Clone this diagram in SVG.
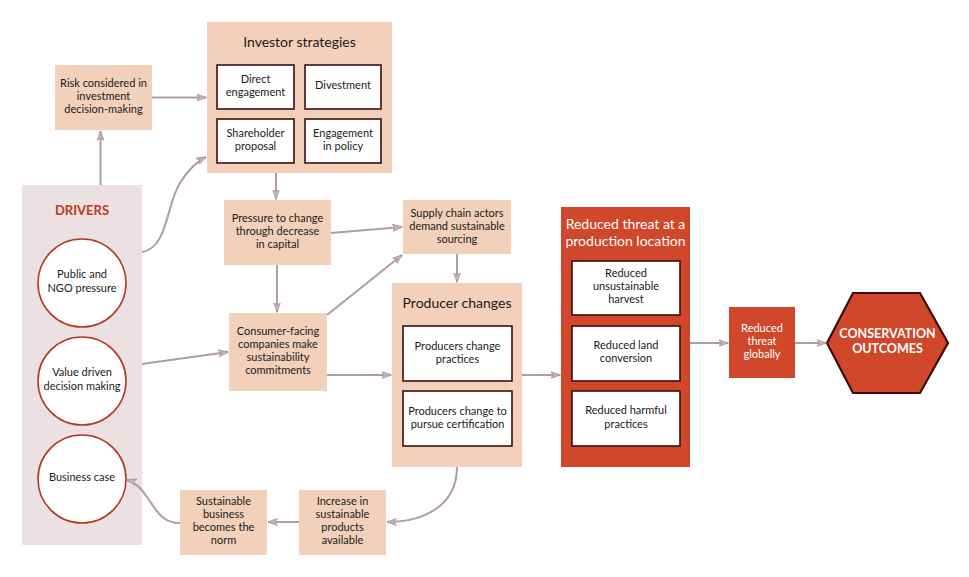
<svg xmlns="http://www.w3.org/2000/svg" width="969" height="577" viewBox="0 0 969 577">
<defs>
<marker id="ah" viewBox="0 0 10 8" refX="9.5" refY="4" markerWidth="10" markerHeight="8" markerUnits="userSpaceOnUse" orient="auto">
<path d="M0,0.5 L10,4 L0,7.5 L2.5,4 Z" fill="#c3b3b6" stroke="#a8939a" stroke-width="0.8"/>
</marker>
</defs>
<style>
text{font-family:Lato,"Open Sans","Liberation Sans",sans-serif;text-anchor:middle;fill:#1a1a1a;font-size:11px}
.peach{fill:#f2d0ba}
.inner{fill:#ffffff;stroke:#3b1010;stroke-width:1.6}
.red{fill:#d1472b}
.circ{fill:#ffffff;stroke:#b33a22;stroke-width:1.6}
.title{font-size:14px}
.wt{fill:#ffffff}
.conn path,.conn line{fill:none;stroke:#b09ca1;stroke-width:2;marker-end:url(#ah)}
</style>
<rect width="969" height="577" fill="#ffffff"/>

<g id="drivers">
<rect x="22" y="185" width="120" height="360" fill="#ebe0e2"/>
<text x="82" y="215" style="font-weight:bold;font-size:13px;fill:#c23b22">DRIVERS</text>
</g>
<g id="public-ngo">
<circle class="circ" cx="82" cy="283" r="44"/>
<text x="82" y="278">Public and</text>
<text x="82" y="292">NGO pressure</text>
</g>
<g id="value-driven">
<circle class="circ" cx="82" cy="381" r="44"/>
<text x="82" y="376">Value driven</text>
<text x="82" y="390">decision making</text>
</g>
<g id="business-case">
<circle class="circ" cx="82" cy="479" r="44"/>
<text x="82" y="481">Business case</text>
</g>

<g id="risk">
<rect class="peach" x="55" y="65" width="97" height="65"/>
<text x="103.5" y="87">Risk considered in</text>
<text x="103.5" y="100">investment</text>
<text x="103.5" y="113">decision-making</text>
</g>

<g id="investor-strategies">
<rect class="peach" x="207" y="22" width="185" height="151"/>
<text class="title" x="299.5" y="47">Investor strategies</text>
</g>
<g id="direct-engagement">
<rect class="inner" x="217" y="65" width="77" height="44"/>
<text x="255.5" y="83">Direct</text>
<text x="255.5" y="96">engagement</text>
</g>
<g id="divestment">
<rect class="inner" x="305" y="65" width="76" height="44"/>
<text x="343" y="89">Divestment</text>
</g>
<g id="shareholder-proposal">
<rect class="inner" x="217" y="119" width="77" height="44"/>
<text x="255.5" y="137">Shareholder</text>
<text x="255.5" y="150">proposal</text>
</g>
<g id="engagement-policy">
<rect class="inner" x="305" y="119" width="76" height="44"/>
<text x="343" y="137">Engagement</text>
<text x="343" y="150">in policy</text>
</g>

<g id="pressure">
<rect class="peach" x="224" y="200" width="107" height="65"/>
<text x="277.5" y="222">Pressure to change</text>
<text x="277.5" y="235">through decrease</text>
<text x="277.5" y="248">in capital</text>
</g>

<g id="consumer-facing">
<rect class="peach" x="229" y="313" width="98" height="78"/>
<text x="278" y="335">Consumer-facing</text>
<text x="278" y="348">companies make</text>
<text x="278" y="361">sustainability</text>
<text x="278" y="374">commitments</text>
</g>

<g id="supply-chain">
<rect class="peach" x="403" y="200" width="108" height="54"/>
<text x="457" y="217">Supply chain actors</text>
<text x="457" y="230">demand sustainable</text>
<text x="457" y="243">sourcing</text>
</g>

<g id="producer-changes">
<rect class="peach" x="392" y="283" width="130" height="184"/>
<text class="title" x="457" y="308">Producer changes</text>
</g>
<g id="producers-practices">
<rect class="inner" x="403" y="326" width="109" height="55"/>
<text x="457.5" y="350">Producers change</text>
<text x="457.5" y="363">practices</text>
</g>
<g id="producers-certification">
<rect class="inner" x="403" y="391" width="109" height="55"/>
<text x="457.5" y="415">Producers change to</text>
<text x="457.5" y="428">pursue certification</text>
</g>

<g id="reduced-threat-location">
<rect class="red" x="561" y="207" width="129" height="260"/>
<text class="title wt" x="625.5" y="229">Reduced threat at a</text>
<text class="title wt" x="625.5" y="246">production location</text>
</g>
<g id="reduced-harvest">
<rect class="inner" x="572" y="261" width="108" height="54"/>
<text x="626" y="277">Reduced</text>
<text x="626" y="290">unsustainable</text>
<text x="626" y="303">harvest</text>
</g>
<g id="reduced-land">
<rect class="inner" x="572" y="326" width="108" height="55"/>
<text x="626" y="349">Reduced land</text>
<text x="626" y="362">conversion</text>
</g>
<g id="reduced-harmful">
<rect class="inner" x="572" y="391" width="108" height="55"/>
<text x="626" y="414">Reduced harmful</text>
<text x="626" y="428">practices</text>
</g>

<g id="reduced-global">
<rect class="red" x="729" y="307" width="66" height="71"/>
<text class="wt" x="762" y="332">Reduced</text>
<text class="wt" x="762" y="345">threat</text>
<text class="wt" x="762" y="358">globally</text>
</g>

<g id="conservation-outcomes">
<polygon points="827,343 853,293 920,293 948,343 920,393 853,393" fill="#d1472b" stroke="#3a0c0c" stroke-width="2.2"/>
<text class="wt" x="887.5" y="338" style="font-weight:bold;font-size:12.5px">CONSERVATION</text>
<text class="wt" x="887.5" y="353" style="font-weight:bold;font-size:12.5px">OUTCOMES</text>
</g>

<g id="sustainable-norm">
<rect class="peach" x="180" y="490" width="87" height="65"/>
<text x="223.5" y="505">Sustainable</text>
<text x="223.5" y="518">business</text>
<text x="223.5" y="531">becomes the</text>
<text x="223.5" y="544">norm</text>
</g>
<g id="increase-products">
<rect class="peach" x="299" y="490" width="87" height="65"/>
<text x="342.5" y="505">Increase in</text>
<text x="342.5" y="518">sustainable</text>
<text x="342.5" y="531">products</text>
<text x="342.5" y="544">available</text>
</g>

<g id="connectors" class="conn">
<line x1="100.5" y1="185" x2="100.5" y2="131"/>
<line x1="152" y1="97.5" x2="206" y2="97.5"/>
<path d="M142,252 C168,248 166,205 180,183 C188,170 196,162 206,157"/>
<line x1="276" y1="173" x2="276" y2="199"/>
<line x1="277" y1="265" x2="277" y2="312"/>
<line x1="331" y1="233" x2="402" y2="227"/>
<line x1="327" y1="315" x2="402" y2="255"/>
<line x1="142" y1="364" x2="228" y2="352"/>
<line x1="327" y1="375" x2="391" y2="375"/>
<line x1="457" y1="254" x2="457" y2="282"/>
<line x1="522" y1="375" x2="560" y2="375"/>
<line x1="690" y1="343" x2="728" y2="343"/>
<line x1="795" y1="343" x2="826" y2="343"/>
<path d="M457,467 C457,505 425,522 387,522"/>
<line x1="299" y1="522" x2="268" y2="522"/>
<path d="M180,523 C162,523 156,510 147,497 C141,488 135,482 127,480"/>
</g>
</svg>
